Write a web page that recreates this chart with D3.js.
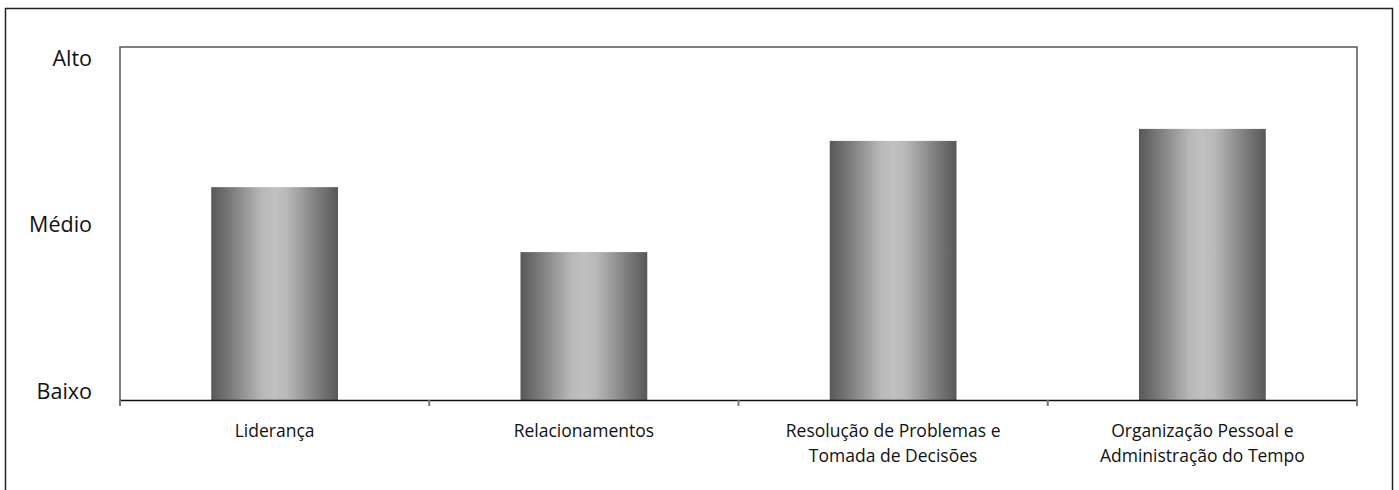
<!DOCTYPE html>
<html><head><meta charset="utf-8">
<script src="https://cdn.jsdelivr.net/npm/d3@7"></script>
<style>body{margin:0;background:#fff}svg{display:block}text{font-family:"Open Sans",sans-serif;fill:#111}</style>
</head><body>
<svg id="c" width="1399" height="490"></svg>
<script>
const categories = [["Liderança"],["Relacionamentos"],["Resolução de Problemas e","Tomada de Decisões"],["Organização Pessoal e","Administração do Tempo"]];
const values = [6.03, 4.19, 7.34, 7.68];
const yTickLabels = ["Baixo","Médio","Alto"];
const yTickValues = [0.25, 5.0, 9.7];

const svg = d3.select("#c");
const L=120, R=1357, T=47, B=400;
const defs = svg.append("defs");
const g = defs.append("linearGradient").attr("id","bg").attr("x1","0").attr("x2","1").attr("y1","0").attr("y2","0");
[[0,"#585858"],[0.15,"#7a7a7a"],[0.4,"#b8b8b8"],[0.5,"#c0c0c0"],[0.6,"#b8b8b8"],[0.85,"#7a7a7a"],[1,"#585858"]].forEach(([o,c])=>g.append("stop").attr("offset",o).attr("stop-color",c));

// outer border
svg.append("rect").attr("x",5.5).attr("y",8.5).attr("width",1387).attr("height",500).attr("fill","none").attr("stroke","#222").attr("stroke-width",1.5);

const x = d3.scaleBand().domain(d3.range(categories.length)).range([L,R]).paddingInner(0.59).paddingOuter(0.295);
const y = d3.scaleLinear().domain([0,10]).range([B,T]);

// plot area border
svg.append("path").attr("d",`M${L},${B+6}V${T}H${R}V${B+6}`).attr("fill","none").attr("stroke","#555").attr("stroke-width",1.5);

svg.selectAll("rect.bar").data(values).join("rect").attr("class","bar")
  .attr("x",(d,i)=>x(i)).attr("width",x.bandwidth())
  .attr("y",d=>y(d)).attr("height",d=>y(0)-y(d)).attr("fill","url(#bg)");

// x axis line + ticks
svg.append("line").attr("x1",L).attr("x2",R).attr("y1",B+0.5).attr("y2",B+0.5).attr("stroke","#111").attr("stroke-width",1.5);
const step = (R-L)/categories.length;
d3.range(categories.length+1).forEach(i=>{
  svg.append("line").attr("x1",L+i*step).attr("x2",L+i*step).attr("y1",B).attr("y2",B+6).attr("stroke","#777").attr("stroke-width",2);
});
categories.forEach((lines,i)=>{
  const t = svg.append("text").attr("text-anchor","middle").attr("font-size",17.5)
    .attr("x",x(i)+x.bandwidth()/2).attr("y",437);
  lines.forEach((s,j)=>t.append("tspan").attr("x",x(i)+x.bandwidth()/2).attr("dy",j?25:0).text(s));
});

yTickLabels.forEach((s,i)=>{
  svg.append("text").attr("text-anchor","end").attr("font-size",21.5)
    .attr("x",92).attr("y",y(yTickValues[i])+8).text(s);
});
</script>
</body></html>
